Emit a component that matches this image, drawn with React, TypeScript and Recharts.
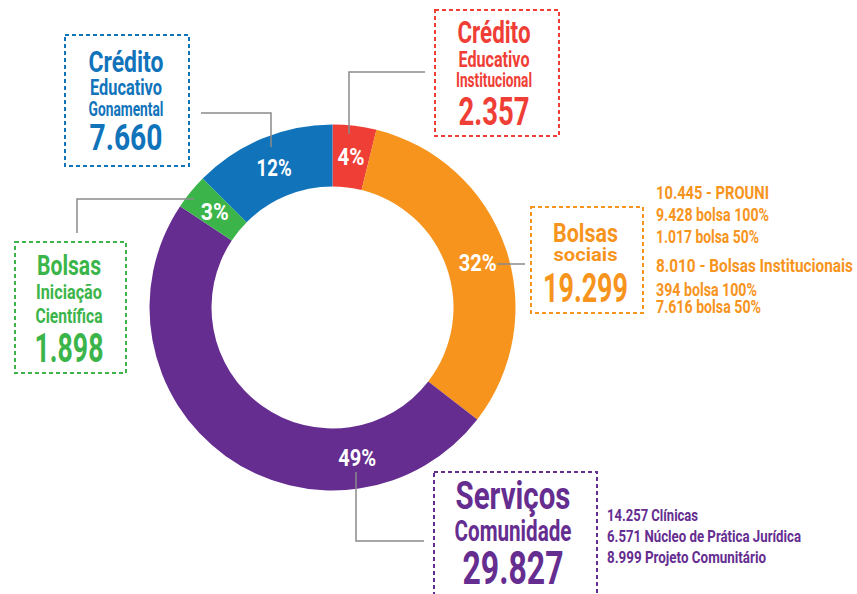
import { PieChart, Pie, Cell } from 'recharts';

const CATEGORIES = [
  'Crédito Educativo Institucional',
  'Bolsas sociais',
  'Serviços Comunidade',
  'Bolsas Iniciação Científica',
  'Crédito Educativo Gonamental',
];
const VALUES = [2357, 19299, 29827, 1898, 7660];
const PERCENT_LABELS = ['4%', '32%', '49%', '3%', '12%'];

const RED_LINES = ['Crédito', 'Educativo', 'Institucional', '2.357'];
const ORANGE_LINES = ['Bolsas', 'sociais', '19.299'];
const PURPLE_LINES = ['Serviços', 'Comunidade', '29.827'];
const GREEN_LINES = ['Bolsas', 'Iniciação', 'Científica', '1.898'];
const BLUE_LINES = ['Crédito', 'Educativo', 'Gonamental', '7.660'];

const ORANGE_DETAILS = [
  '10.445 - PROUNI',
  '9.428 bolsa 100%',
  '1.017 bolsa 50%',
  '8.010 - Bolsas Institucionais',
  '394 bolsa 100%',
  '7.616 bolsa 50%',
];
const PURPLE_DETAILS = ['14.257 Clínicas', '6.571 Núcleo de Prática Jurídica', '8.999 Projeto Comunitário'];

const COLORS = ['#ef3e36', '#f7941d', '#652d90', '#3bb54a', '#1174bb'];
// label angle nudge (clockwise degrees) and drawn width of each percent label
const LABEL_SHIFT = [0, 2, -45, 0, 0];
const LABEL_WIDTH = [27, 38, 38, 28, 35];

const FONT = "Roboto, 'Liberation Sans', sans-serif";
const LINE_COLOR = '#8a8a8a';
const RAD = Math.PI / 180;

const data = CATEGORIES.map((name, i) => ({ name, value: VALUES[i] }));

const renderLabel = (props: any) => {
  const { cx, cy, midAngle, innerRadius, outerRadius, index } = props;
  const r = (innerRadius + outerRadius) / 2;
  const a = (midAngle - LABEL_SHIFT[index]) * RAD;
  const x = cx + r * Math.cos(a);
  const y = cy - r * Math.sin(a);
  return (
    <text
      x={x}
      y={y + 8.5}
      fill="#fff"
      textAnchor="middle"
      fontSize={24}
      fontWeight={700}
      fontFamily={FONT}
      textLength={LABEL_WIDTH[index]}
      lengthAdjust="spacingAndGlyphs"
    >
      {PERCENT_LABELS[index]}
    </text>
  );
};

type Line = { size: number; y: number; w: number };

type BoxProps = {
  rect: [number, number, number, number];
  color: string;
  cx: number;
  lines: string[];
  layout: Line[];
};

function Box({ rect, color, cx, lines, layout }: BoxProps) {
  const [x, y, w, h] = rect;
  return (
    <g>
      <rect x={x} y={y} width={w} height={h} fill="none" stroke={color} strokeWidth={2} strokeDasharray="4 3" />
      {lines.map((t, i) => (
        <text
          key={i}
          x={cx}
          y={layout[i].y}
          textAnchor="middle"
          fill={color}
          fontSize={layout[i].size}
          fontWeight={700}
          fontFamily={FONT}
          textLength={layout[i].w}
          lengthAdjust="spacingAndGlyphs"
        >
          {t}
        </text>
      ))}
    </g>
  );
}

function Details({ x, color, lines, layout }: { x: number; color: string; lines: string[]; layout: Line[] }) {
  return (
    <g>
      {lines.map((t, i) => (
        <text
          key={t}
          x={x}
          y={layout[i].y}
          fill={color}
          fontSize={layout[i].size}
          fontWeight={700}
          fontFamily={FONT}
          textLength={layout[i].w}
          lengthAdjust="spacingAndGlyphs"
        >
          {t}
        </text>
      ))}
    </g>
  );
}

export default function App() {
  return (
    <div style={{ position: 'absolute', left: 0, top: 0, width: 857, height: 594, background: '#fff' }}>
      <PieChart width={857} height={594} margin={{ top: 0, right: 0, bottom: 0, left: 0 }}>
        <Pie
          data={data}
          dataKey="value"
          nameKey="name"
          cx={332.5}
          cy={307.5}
          innerRadius={121}
          outerRadius={183}
          startAngle={90}
          endAngle={-270}
          stroke="none"
          label={renderLabel}
          labelLine={false}
          isAnimationActive={false}
        >
          {data.map((_, i) => (
            <Cell key={i} fill={COLORS[i]} />
          ))}
        </Pie>
      </PieChart>
      <svg
        width={857}
        height={594}
        style={{ position: 'absolute', left: 0, top: 0, pointerEvents: 'none' }}
      >
        <g fill="none" stroke={LINE_COLOR} strokeWidth={1.5}>
          <polyline points="271,147 271,113 201,113" />
          <polyline points="349,134 349,72 425,72" />
          <polyline points="194,199 77,199 77,233" />
          <polyline points="497,264 525,264" />
          <polyline points="356,472 356,541 424,541" />
        </g>
        <Box
          rect={[65, 35, 124, 131]}
          color={COLORS[4]}
          cx={126}
          lines={BLUE_LINES}
          layout={[
            { size: 30, y: 72, w: 75 },
            { size: 21.5, y: 95, w: 72 },
            { size: 20, y: 116, w: 75 },
            { size: 36.5, y: 150, w: 73 },
          ]}
        />
        <Box
          rect={[435, 10, 124, 126]}
          color={COLORS[0]}
          cx={494}
          lines={RED_LINES}
          layout={[
            { size: 30.5, y: 43, w: 73 },
            { size: 21.5, y: 67, w: 71 },
            { size: 20, y: 87, w: 76 },
            { size: 38, y: 125, w: 71 },
          ]}
        />
        <Box
          rect={[15, 242, 111, 131]}
          color={COLORS[3]}
          cx={69}
          lines={GREEN_LINES}
          layout={[
            { size: 28.5, y: 275, w: 64 },
            { size: 20.5, y: 299, w: 66 },
            { size: 21, y: 323, w: 67 },
            { size: 40, y: 362, w: 69 },
          ]}
        />
        <Box
          rect={[531, 207, 112, 106]}
          color={COLORS[1]}
          cx={585.5}
          lines={ORANGE_LINES}
          layout={[
            { size: 25, y: 242, w: 65 },
            { size: 18.5, y: 261, w: 64 },
            { size: 40, y: 302, w: 85 },
          ]}
        />
        <Box
          rect={[434, 472, 163, 130]}
          color={COLORS[2]}
          cx={513}
          lines={PURPLE_LINES}
          layout={[
            { size: 38, y: 509, w: 115 },
            { size: 29, y: 541, w: 117 },
            { size: 47, y: 584, w: 101 },
          ]}
        />
        <Details
          x={656}
          color={COLORS[1]}
          lines={ORANGE_DETAILS}
          layout={[
            { size: 17.5, y: 199, w: 113 },
            { size: 17.5, y: 221, w: 113 },
            { size: 17.5, y: 243, w: 103 },
            { size: 17.5, y: 272, w: 197 },
            { size: 17.5, y: 296, w: 101 },
            { size: 17.5, y: 313, w: 105 },
          ]}
        />
        <Details
          x={607}
          color={COLORS[2]}
          lines={PURPLE_DETAILS}
          layout={[
            { size: 16, y: 521, w: 91 },
            { size: 16, y: 542, w: 194 },
            { size: 16, y: 563, w: 159 },
          ]}
        />
      </svg>
    </div>
  );
}
